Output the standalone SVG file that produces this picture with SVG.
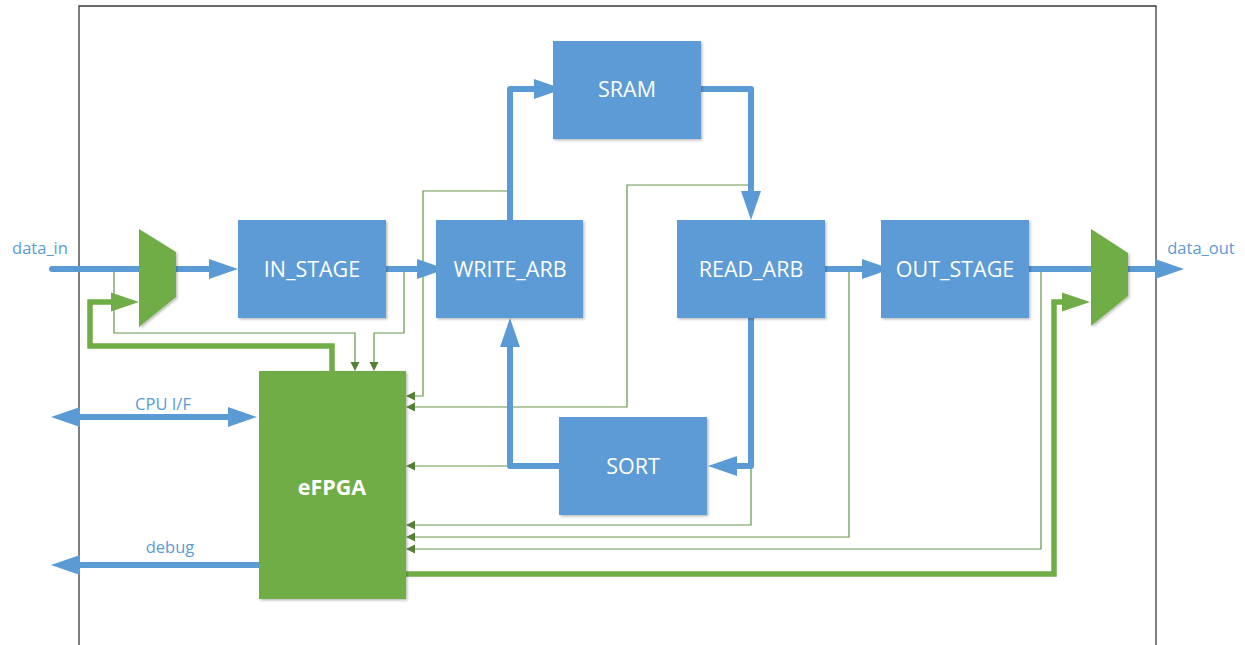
<svg xmlns="http://www.w3.org/2000/svg" width="1245" height="645" viewBox="0 0 1245 645">
<defs>
<style>
.blk{fill:#5B9BD5;filter:url(#sh)}
.grn{fill:#70AD47;filter:url(#sh)}
.bt{font-family:"Open Sans","Liberation Sans",sans-serif;font-size:21.5px;fill:#fff;text-anchor:middle}
.lbl{font-family:"Open Sans","Liberation Sans",sans-serif;font-size:16.5px;fill:#5B9BD5;text-anchor:middle}
.bl{fill:none;stroke:#5B9BD5;stroke-width:6;stroke-linejoin:round}
.gt{fill:none;stroke:#70AD47;stroke-width:5.5;stroke-linejoin:miter}
.gn{fill:none;stroke:#65984A;stroke-width:1.2}
</style>
<filter id="sh" x="-10%" y="-10%" width="120%" height="120%">
<feDropShadow dx="1.5" dy="1.5" stdDeviation="1.2" flood-color="#000" flood-opacity="0.25"/>
</filter>
<marker id="ab" markerUnits="userSpaceOnUse" markerWidth="30" markerHeight="20" refX="0" refY="10" orient="auto-start-reverse" overflow="visible">
<path d="M0,0 L29,10 L0,20 z" fill="#5B9BD5"/>
</marker>
<marker id="ag" markerUnits="userSpaceOnUse" markerWidth="30" markerHeight="20" refX="0" refY="9.5" orient="auto" overflow="visible">
<path d="M0,0 L28,9.5 L0,19 z" fill="#70AD47"/>
</marker>
<marker id="at" markerUnits="userSpaceOnUse" markerWidth="10" markerHeight="9" refX="0" refY="4.5" orient="auto" overflow="visible">
<path d="M0,0 L9,4.5 L0,9 z" fill="#548235"/>
</marker>
</defs>
<rect width="1245" height="645" fill="#fff"/>
<path d="M79,645 V6 H1156 V645" fill="none" stroke="#3a3a3a" stroke-width="1.3"/>

<g id="connectors">
<path class="gn" d="M114,269 V333 H355 V362" marker-end="url(#at)"/>
<path class="gn" d="M404,269 V333 H374 V362" marker-end="url(#at)"/>
<path class="gn" d="M510,191 H423 V396 H415" marker-end="url(#at)"/>
<path class="gn" d="M751,185 H627 V407 H415" marker-end="url(#at)"/>
<path class="gn" d="M510,466 H415" marker-end="url(#at)"/>
<path class="gn" d="M751,466 V525 H415" marker-end="url(#at)"/>
<path class="gn" d="M849,269 V537 H415" marker-end="url(#at)"/>
<path class="gn" d="M1041,269 V549 H415" marker-end="url(#at)"/>

<path class="bl" d="M52,269 H209" stroke-linecap="round" marker-end="url(#ab)"/>
<path class="bl" d="M386,269 H417" marker-end="url(#ab)"/>
<path class="bl" d="M510,220 V89 H534" marker-end="url(#ab)"/>
<path class="bl" d="M701,89 H751 V191" marker-end="url(#ab)"/>
<path class="bl" d="M825,269 H862" marker-end="url(#ab)"/>
<path class="bl" d="M1029,269 H1155" marker-end="url(#ab)"/>
<path class="bl" d="M751,318 V466 H737" marker-end="url(#ab)"/>
<path class="bl" d="M559,466 H510 V347" marker-end="url(#ab)"/>
<path class="bl" d="M80,417 H228" marker-start="url(#ab)" marker-end="url(#ab)"/>
<path class="bl" d="M259,565 H80" marker-end="url(#ab)"/>

<path class="gt" d="M332,371 V346 H90 V302 H111" marker-end="url(#ag)"/>
<path class="gt" d="M406,574 H1054 V302 H1062" marker-end="url(#ag)"/>

<text class="lbl" x="40" y="254">data_in</text>
<text class="lbl" x="1201" y="254">data_out</text>
<text class="lbl" x="163" y="410">CPU I/F</text>
<text class="lbl" x="170" y="553">debug</text>
</g>

<g id="mux_in"><polygon class="grn" points="139,229 176,252 176,297 139,327"/></g>
<g id="mux_out"><polygon class="grn" points="1091,229 1128,253 1128,296 1091,326"/></g>
<g id="in_stage"><rect class="blk" x="238" y="220" width="148" height="98"/><text class="bt" x="312" y="277">IN_STAGE</text></g>
<g id="write_arb"><rect class="blk" x="436" y="220" width="147" height="98"/><text class="bt" x="510" y="277">WRITE_ARB</text></g>
<g id="sram"><rect class="blk" x="553" y="41" width="148" height="98"/><text class="bt" x="627" y="97">SRAM</text></g>
<g id="read_arb"><rect class="blk" x="677" y="220" width="148" height="98"/><text class="bt" x="751" y="277">READ_ARB</text></g>
<g id="out_stage"><rect class="blk" x="881" y="220" width="148" height="98"/><text class="bt" x="955" y="277">OUT_STAGE</text></g>
<g id="sort"><rect class="blk" x="559" y="417" width="148" height="98"/><text class="bt" x="633" y="474">SORT</text></g>
<g id="efpga"><rect class="grn" x="259" y="371" width="147" height="228"/><text class="bt" x="332" y="495" font-weight="bold">eFPGA</text></g>
</svg>
